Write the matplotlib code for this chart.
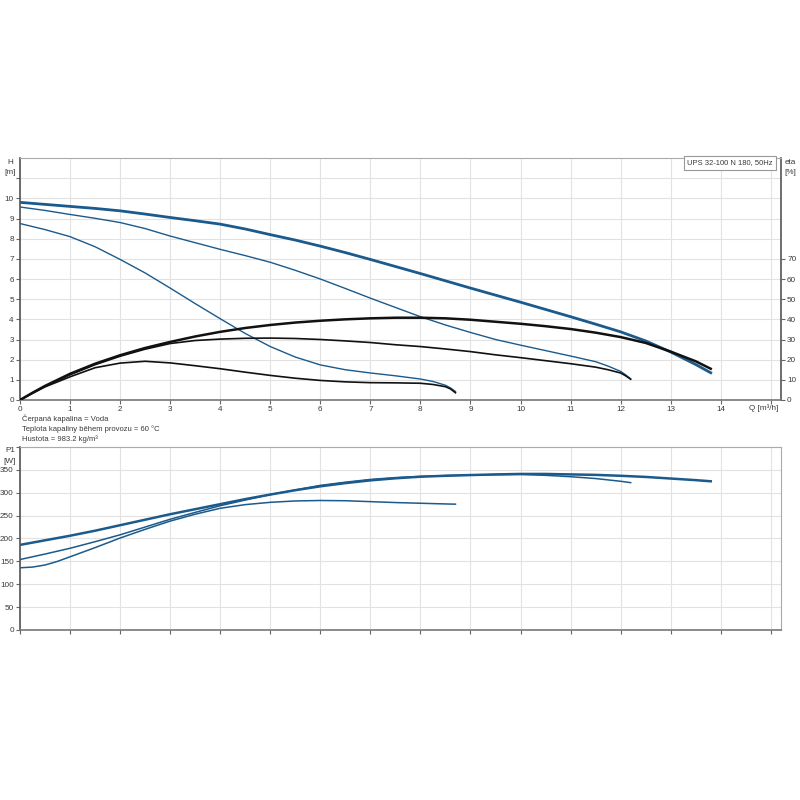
import matplotlib.pyplot as plt
import numpy as np

# flow points for each of the three speeds
q3 = [0, 0.5, 1, 1.5, 2, 2.5, 3, 3.5, 4, 4.5, 5, 5.5, 6, 6.5, 7, 7.5, 8, 8.5,
      9, 9.5, 10, 10.5, 11, 11.5, 12, 12.5, 13, 13.5, 13.8]
q2 = [0, 0.5, 1, 1.5, 2, 2.5, 3, 3.5, 4, 4.5, 5, 5.5, 6, 6.5, 7, 7.5, 8, 8.5,
      9, 9.5, 10, 10.5, 11, 11.5, 11.75, 12, 12.1, 12.2]
q1 = [0, 0.5, 1, 1.5, 2, 2.5, 3, 3.5, 4, 4.5, 5, 5.5, 6, 6.5, 7, 7.5, 8, 8.25,
      8.5, 8.6, 8.7]

# head [m]
h3 = [9.8, 9.7, 9.6, 9.5, 9.38, 9.22, 9.05, 8.89, 8.72, 8.48, 8.2, 7.93, 7.63,
      7.31, 6.97, 6.62, 6.27, 5.91, 5.55, 5.2, 4.85, 4.49, 4.13, 3.76, 3.38,
      2.93, 2.38, 1.76, 1.35]
h2 = [9.57, 9.4, 9.2, 9.01, 8.8, 8.5, 8.13, 7.8, 7.47, 7.16, 6.83, 6.43, 6.0,
      5.53, 5.05, 4.59, 4.13, 3.72, 3.35, 3.0, 2.72, 2.45, 2.18, 1.9, 1.68,
      1.42, 1.25, 1.05]
h1 = [8.75, 8.45, 8.1, 7.6, 6.97, 6.3, 5.55, 4.78, 4.03, 3.3, 2.65, 2.13, 1.74,
      1.5, 1.34, 1.2, 1.04, 0.92, 0.73, 0.6, 0.42]

# efficiency [%]
qe3 = [0, 0.25] + q3[1:]
e3 = [0, 3.6, 7, 13, 18, 22.2, 25.8, 28.8, 31.5, 33.8, 35.7, 37.2, 38.4, 39.3,
      40, 40.5, 40.8, 40.8, 40.5, 39.8, 38.8, 37.8, 36.6, 35.2, 33.4, 31.2,
      28.3, 24, 19.2, 15.5]
qe2 = [0, 0.25] + q2[1:]
e2 = [0, 3.5, 6.8, 12.5, 17.5, 21.7, 25.2, 28, 29.5, 30.2, 30.6, 30.7, 30.5,
      30, 29.3, 28.5, 27.4, 26.5, 25.3, 24, 22.4, 21, 19.5, 18, 16.3, 15.0,
      13.4, 12.0, 10.3]
qe1 = [0, 0.25] + q1[1:]
e1 = [0, 3.3, 6.5, 11.5, 16, 18.3, 19.2, 18.4, 17, 15.5, 13.8, 12.2, 10.8, 9.7,
      9, 8.6, 8.5, 8.3, 7.7, 6.6, 5.5, 3.6]

# power input P1 [W]
p3 = [186, 196, 206, 217, 229, 241, 253, 264, 275, 286, 296, 305.5, 314, 321,
      327, 331.5, 335, 337, 338.6, 340, 341, 341, 340, 339, 337, 334.5, 331,
      327.5, 325]
p2 = [154, 166, 178.6, 193, 208, 225, 242, 257, 271.6, 284, 296, 306, 316, 323,
      329, 333, 335.5, 337.5, 338.6, 339.5, 340, 338, 335, 331, 328, 325,
      323.5, 322]
qp1 = [0, 0.25, 0.5, 0.75] + q1[2:]
p1 = [136, 137.5, 142, 150, 160, 180, 201, 220, 238, 253, 266, 274, 279, 282,
      283, 282.5, 280.5, 278.5, 277, 276.2, 275.5, 275.2, 275]

title = 'UPS 32-100 N 180, 50Hz'
notes = ['Čerpaná kapalina = Voda',
         'Teplota kapaliny během provozu = 60 °C',
         'Hustota = 983.2 kg/m³']

blue = '#1b5a8c'
dark = '#111111'
txt = '#3a3a3a'
grid = '#e2e2e2'
fs = 5.5
tfs = 5.9

plt.rcParams['font.family'] = ['Liberation Sans', 'DejaVu Sans']

fig = plt.figure(figsize=(8, 8), dpi=100)
ax = fig.add_axes([0.025, 0.5, 0.951, 0.3025])
ax2 = fig.add_axes([0.025, 0.2125, 0.951, 0.2288])


def style(a, right_dark):
    a.set_xlim(0, 15.2)
    a.set_xticks(range(16))
    a.grid(True, color=grid, lw=0.8)
    a.set_axisbelow(True)
    a.spines['left'].set_color('#555555')
    a.spines['left'].set_linewidth(1.2)
    a.spines['bottom'].set_color('#777777')
    a.spines['bottom'].set_linewidth(1.2)
    a.spines['top'].set_color('#aaaaaa')
    a.spines['right'].set_color('#555555' if right_dark else '#aaaaaa')
    a.spines['right'].set_linewidth(1.2 if right_dark else 0.8)
    a.tick_params(length=3, width=0.8, color='#666666', labelsize=tfs,
                  labelcolor=txt, pad=1.5)


# --- head / efficiency chart
style(ax, True)
ax.set_ylim(0, 12)
ax.set_yticks(range(12))
ax.set_yticklabels([str(i) for i in range(11)] + [''])
ax.set_xticklabels([str(i) for i in range(15)] + [''])

ax.plot(q1, h1, color=blue, lw=1.0)
ax.plot(q2, h2, color=blue, lw=1.0)
ax.plot(q3, h3, color=blue, lw=2.0)

axe = ax.twinx()
axe.set_ylim(0, 120)
axe.set_yticks(range(0, 80, 10))
axe.tick_params(length=3, width=0.8, color='#666666', labelsize=tfs,
                labelcolor=txt, pad=1.5)
for s in axe.spines.values():
    s.set_visible(False)
axe.plot(qe1, e1, color=dark, lw=1.2)
axe.plot(qe2, e2, color=dark, lw=1.2)
axe.plot(qe3, e3, color=dark, lw=1.8)

ax.text(0.9895, 0.994, title, transform=ax.transAxes, ha='right', va='top',
        fontsize=fs, color=txt,
        bbox=dict(boxstyle='square,pad=0.45', fc='white', ec='#999999', lw=0.8))

fig.text(10 / 800, 1 - 162 / 800, 'H', fontsize=tfs, color=txt, ha='center', va='center')
fig.text(10 / 800, 1 - 172 / 800, '[m]', fontsize=tfs, color=txt, ha='center', va='center')
fig.text(790 / 800, 1 - 162 / 800, 'eta', fontsize=tfs, color=txt, ha='center', va='center')
fig.text(790 / 800, 1 - 172 / 800, '[%]', fontsize=tfs, color=txt, ha='center', va='center')
fig.text(764 / 800, 1 - 408 / 800, 'Q [m³/h]', fontsize=tfs, color=txt, ha='center', va='center')

for i, line in enumerate(notes):
    fig.text(22 / 800, 1 - (419 + 10 * i) / 800, line, fontsize=fs, color=txt,
             ha='left', va='center')

# --- power chart
style(ax2, False)
ax2.set_ylim(0, 400)
ax2.set_yticks(range(0, 401, 50))
ax2.set_yticklabels([str(v) for v in range(0, 351, 50)] + [''])
ax2.set_xticklabels([])
ax2.plot(qp1, p1, color=blue, lw=1.1)
ax2.plot(q2, p2, color=blue, lw=1.1)
ax2.plot(q3, p3, color=blue, lw=1.8)

fig.text(10 / 800, 1 - 451 / 800, 'P1', fontsize=tfs, color=txt, ha='center', va='center')
fig.text(10 / 800, 1 - 461 / 800, '[W]', fontsize=tfs, color=txt, ha='center', va='center')

fig.savefig('out.png', dpi=100)
